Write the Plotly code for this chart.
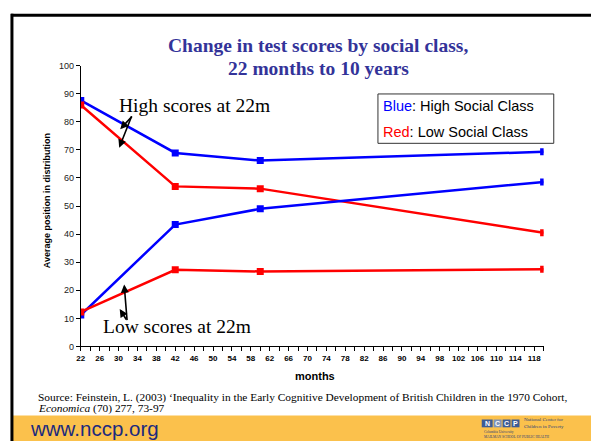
import plotly.graph_objects as go

W, H = 591, 446

months = [22, 42, 60, 120]
high_blue = [87.6, 68.9, 66.2, 69.3]
high_red = [86.0, 57.0, 56.2, 40.5]
low_blue = [11.2, 43.4, 49.0, 58.6]
low_red = [12.3, 27.3, 26.7, 27.5]

x_tick_vals = list(range(22, 119, 4))
y_tick_vals = list(range(0, 101, 10))

title_lines = ["Change in test scores by social class,", "22 months to 10 years"]
legend_lines = [("Blue", "#0000FF", ": High Social Class"), ("Red", "#FF0000", ": Low Social Class")]
source_lines = ["Source: Feinstein, L. (2003) \u2018Inequality in the Early Cognitive Development of British Children in the 1970 Cohort,",
                "<i>Economica</i> (70) 277, 73-97"]

BLUE = "#0000FF"
RED = "#FF0000"
SANS = "Liberation Sans, Arial, sans-serif"
SERIF = "Liberation Serif, Times New Roman, serif"


def X(px):
    return px / W


def Y(py):
    return 1 - py / H


fig = go.Figure()
for ys, col in [(high_blue, BLUE), (high_red, RED), (low_blue, BLUE), (low_red, RED)]:
    fig.add_trace(go.Scatter(x=months, y=ys, mode="lines+markers",
                             line=dict(color=col, width=2.5),
                             marker=dict(symbol="square", size=7, color=col),
                             showlegend=False, hoverinfo="skip"))

fig.update_layout(
    width=W, height=H, margin=dict(l=0, r=0, t=0, b=0),
    paper_bgcolor="white", plot_bgcolor="white", showlegend=False,
    xaxis=dict(domain=[X(77.3), X(543.3)], range=[22, 120], tickvals=x_tick_vals,
               ticks="outside", ticklen=4, tickcolor="black", showline=True, linecolor="black",
               linewidth=1, showgrid=False, zeroline=False,
               tickfont=dict(family=SANS, size=8, color="black", weight="bold"),
               minor=dict(dtick=2, tick0=22, ticks="outside", ticklen=4, tickcolor="black", showgrid=False)),
    yaxis=dict(domain=[Y(349.3), Y(62)], range=[0, 100], tickvals=y_tick_vals,
               ticks="outside", ticklen=4, tickcolor="black", showline=True, linecolor="black",
               linewidth=1, showgrid=False, zeroline=False,
               tickfont=dict(family=SANS, size=9, color="#222")),
)

shapes = []
# orange footer band
shapes.append(dict(type="rect", xref="paper", yref="paper", x0=X(7), x1=X(591), y0=Y(446), y1=Y(420),
                   fillcolor="#FBC14C", line=dict(width=0), layer="below"))
# slide frame
shapes.append(dict(type="line", xref="paper", yref="paper", x0=X(8), x1=X(8), y0=Y(446), y1=Y(9),
                   line=dict(color="black", width=3)))
shapes.append(dict(type="line", xref="paper", yref="paper", x0=X(7), x1=X(591), y0=Y(10.5), y1=Y(10.5),
                   line=dict(color="black", width=3)))
# legend box
shapes.append(dict(type="rect", xref="paper", yref="paper", x0=X(376.5), x1=X(553.5), y0=Y(141.5), y1=Y(91),
                   fillcolor="white", line=dict(color="#333", width=1)))
# logo blocks
logo_blocks = [(481, 492, "#3D5C95"), (493, 501, "#7F93B8"), (502, 510, "#3D5C95"), (511, 519, "#3D5C95")]
for x0, x1, c in logo_blocks:
    shapes.append(dict(type="rect", xref="paper", yref="paper", x0=X(x0), x1=X(x1), y0=Y(432), y1=Y(424),
                       fillcolor=c, line=dict(width=0)))
fig.update_layout(shapes=shapes)

ann = []
ann.append(dict(text="<b>" + title_lines[0] + "</b>", x=X(316.5), y=Y(41), xref="paper", yref="paper",
                showarrow=False, font=dict(family=SERIF, size=19.5, color="#333399"), xanchor="center", yanchor="middle"))
ann.append(dict(text="<b>" + title_lines[1] + "</b>", x=X(316.5), y=Y(64.5), xref="paper", yref="paper",
                showarrow=False, font=dict(family=SERIF, size=19.5, color="#333399"), xanchor="center", yanchor="middle"))
for i, (word, col, rest) in enumerate(legend_lines):
    ann.append(dict(text=f"<span style='color:{col}'>{word}</span>{rest}", x=X(380), y=Y(103.5 + 26.5 * i),
                    xref="paper", yref="paper", showarrow=False, xanchor="left", yanchor="middle",
                    font=dict(family=SANS, size=14.5, color="black")))
ann.append(dict(text="High scores at 22m", x=X(114), y=Y(103), xref="paper", yref="paper", showarrow=False,
                xanchor="left", yanchor="middle", font=dict(family=SERIF, size=19.5, color="black")))
ann.append(dict(text="Low scores at 22m", x=X(98), y=Y(329), xref="paper", yref="paper", showarrow=False,
                xanchor="left", yanchor="middle", font=dict(family=SERIF, size=19.5, color="black")))
arrows = [((117, 127), (130, 113)), ((116, 146), (129, 113)), ((121, 286), (124, 323)), ((116.5, 311), (124, 323))]
for (hx, hy), (tx, ty) in arrows:
    ann.append(dict(text="", x=X(hx), y=Y(hy), xref="paper", yref="paper", showarrow=True,
                    ax=tx - hx, ay=ty - hy, arrowhead=2, arrowsize=1, arrowwidth=1.6, arrowcolor="black"))
ann.append(dict(text="<b>Average position in distribution</b>", x=X(43), y=Y(200), xref="paper", yref="paper",
                showarrow=False, textangle=-90, xanchor="center", yanchor="middle",
                font=dict(family=SANS, size=9, color="black")))
ann.append(dict(text="<b>months</b>", x=X(313), y=Y(379), xref="paper", yref="paper", showarrow=False,
                xanchor="center", yanchor="middle", font=dict(family=SANS, size=11, color="black")))
for i, line in enumerate(source_lines):
    ann.append(dict(text=line, x=X(32), y=Y(402 + 11 * i), xref="paper", yref="paper", showarrow=False,
                    xanchor="left", yanchor="middle", font=dict(family=SERIF, size=11.4, color="black")))
ann.append(dict(text="www.nccp.org", x=X(24), y=Y(433), xref="paper", yref="paper", showarrow=False,
                xanchor="left", yanchor="middle", font=dict(family=SANS, size=20.5, color="#1B2A7E")))
for txt, x0 in [("N", 486.5), ("C", 497), ("C", 506), ("P", 515)]:
    ann.append(dict(text=f"<b>{txt}</b>", x=X(x0), y=Y(428), xref="paper", yref="paper", showarrow=False,
                    xanchor="center", yanchor="middle", font=dict(family=SANS, size=7, color="white")))
ann.append(dict(text="National Center for<br>Children in Poverty", x=X(522), y=Y(428), xref="paper", yref="paper",
                showarrow=False, xanchor="left", yanchor="middle", align="left",
                font=dict(family=SERIF, size=5, color="#2C3E7A")))
ann.append(dict(text="Columbia University<br>MAILMAN SCHOOL OF PUBLIC HEALTH", x=X(481), y=Y(439), xref="paper",
                yref="paper", showarrow=False, xanchor="left", yanchor="middle", align="left",
                font=dict(family=SERIF, size=3.5, color="#2C3E7A")))
fig.update_layout(annotations=ann)

fig.write_html("out.html")
